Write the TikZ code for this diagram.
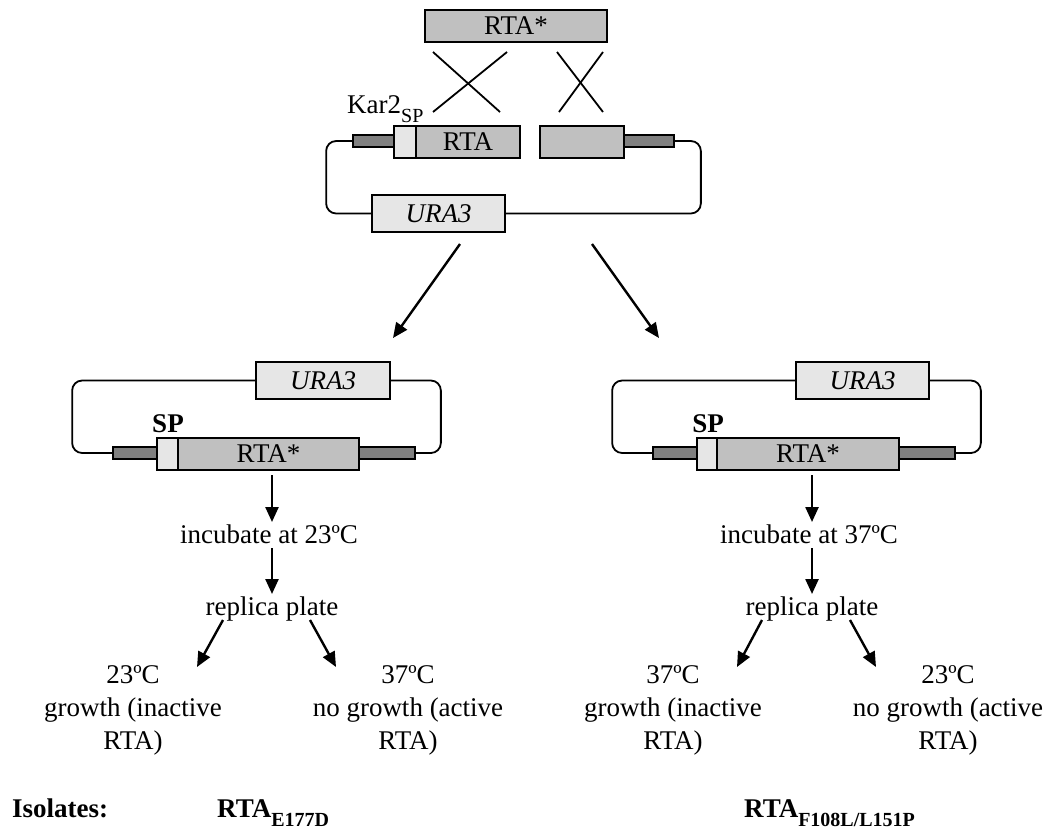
\documentclass[tikz,border=0pt]{standalone}
\usepackage{fontspec}
\setmainfont{Liberation Serif}
\usetikzlibrary{arrows.meta}
\definecolor{rtagray}{HTML}{C0C0C0}
\definecolor{lightbox}{HTML}{E6E6E6}
\definecolor{darkbar}{HTML}{808080}
\tikzset{
  gene/.style={draw=black, line width=1.7pt, inner sep=0pt, fill=rtagray},
  lgene/.style={gene, fill=lightbox},
  dbar/.style={draw=black, line width=1.7pt, inner sep=0pt, fill=darkbar},
  loopline/.style={line width=1.8pt, rounded corners=10pt},
  cross/.style={line width=1.8pt},
  arr/.style={line width=2.4pt, -{Triangle[length=15pt,width=13pt]}},
  txt/.style={inner sep=0pt, font=\fontsize{27}{33}\selectfont},
  btxt/.style={inner sep=0pt, font=\fontsize{27}{33}\selectfont\bfseries},
}
\newcommand{\mysub}[1]{\raisebox{-9pt}{\fontsize{20}{20}\selectfont #1}}
\begin{document}
\begin{tikzpicture}[x=1pt,y=-1pt]
\useasboundingbox (0,0) rectangle (1051,831);

% ---------- top construct ----------
\node[gene, minimum width=182pt, minimum height=32pt, font=\fontsize{27}{33}\selectfont] (top) at (516,26) {RTA*};
\draw[cross] (433,52) -- (500,112);
\draw[cross] (507,52) -- (433,112);
\draw[cross] (557,52) -- (603,112);
\draw[cross] (603,52) -- (559,112);

\node[txt, anchor=base west] (kar) at (347,113) {Kar2\mysub{SP}};

\node[dbar, minimum width=41pt, minimum height=12pt] (tdl) at (373.5,141) {};
\node[lgene, minimum width=22pt, minimum height=32pt] (tkar) at (405,142) {};
\node[gene, minimum width=104pt, minimum height=32pt, font=\fontsize{27}{33}\selectfont] (trta) at (468,142) {RTA};
\node[gene, minimum width=84pt, minimum height=32pt] (trtb) at (582,142) {};
\node[dbar, minimum width=50pt, minimum height=12pt] (tdr) at (649,141) {};
\node[lgene, minimum width=133pt, minimum height=37pt, font=\fontsize{27}{33}\selectfont\itshape] (tura) at (438.5,213.5) {URA3};
\draw[loopline] (tdl.west) -- ++(-26,0) |- (tura.west);
\draw[loopline] (tdr.east) -- ++(26,0) |- (tura.east);

\coordinate (a1s) at (460,244);
\coordinate (a1e) at (393,338);
\coordinate (a2s) at (592,244);
\coordinate (a2e) at (659,338);
\draw[arr] (a1s) -- (a1e);
\draw[arr] (a2s) -- (a2e);

% ---------- left plasmid ----------
\node[lgene, minimum width=134pt, minimum height=37pt, font=\fontsize{27}{33}\selectfont\itshape] (lura) at (323,380.5) {URA3};
\node[dbar, minimum width=44pt, minimum height=12pt] (ldl) at (135,453) {};
\node[lgene, minimum width=21pt, minimum height=32pt] (lsp) at (167.5,454) {};
\node[gene, minimum width=181pt, minimum height=32pt, font=\fontsize{27}{33}\selectfont] (lrta) at (268.5,454) {RTA*};
\node[dbar, minimum width=56pt, minimum height=12pt] (ldr) at (387,453) {};
\draw[loopline] (lura.west) -- ++(-183,0) |- (ldl.west);
\draw[loopline] (lura.east) -- ++(50,0) |- (ldr.east);
\node[btxt, anchor=base] (lsplab) at (168,432) {SP};

% ---------- right plasmid ----------
\node[lgene, minimum width=133pt, minimum height=37pt, font=\fontsize{27}{33}\selectfont\itshape] (rura) at (862.5,380.5) {URA3};
\node[dbar, minimum width=44pt, minimum height=12pt] (rdl) at (675,453) {};
\node[lgene, minimum width=20pt, minimum height=32pt] (rsp) at (707,454) {};
\node[gene, minimum width=182pt, minimum height=32pt, font=\fontsize{27}{33}\selectfont] (rrta) at (808,454) {RTA*};
\node[dbar, minimum width=56pt, minimum height=12pt] (rdr) at (927,453) {};
\draw[loopline] (rura.west) -- ++(-183,0) |- (rdl.west);
\draw[loopline] (rura.east) -- ++(51,0) |- (rdr.east);
\node[btxt, anchor=base] (rsplab) at (708,432) {SP};

% ---------- left branch ----------
\node[txt, anchor=base] (linc) at (269,543) {incubate at 23ºC};
\node[txt, anchor=base] (lrep) at (272,615) {replica plate};
\coordinate (l1s) at (272,475);
\coordinate (l1e) at (272,522);
\coordinate (l2s) at (272,548);
\coordinate (l2e) at (272,594);
\draw[arr] (l1s) -- (l1e);
\draw[arr] (l2s) -- (l2e);
\coordinate (l3s) at (223,620);
\coordinate (l3e) at (197,667);
\coordinate (l4s) at (310,620);
\coordinate (l4e) at (336,667);
\draw[arr] (l3s) -- (l3e);
\draw[arr] (l4s) -- (l4e);
\node[txt, anchor=north, align=center] (lres1) at (133,665) {23ºC\\growth (inactive\\RTA)};
\node[txt, anchor=north, align=center] (lres2) at (408,665) {37ºC\\no growth (active\\RTA)};

% ---------- right branch ----------
\node[txt, anchor=base] (rinc) at (809,543) {incubate at 37ºC};
\node[txt, anchor=base] (rrep) at (812,615) {replica plate};
\coordinate (r1s) at (812,475);
\coordinate (r1e) at (812,522);
\coordinate (r2s) at (812,548);
\coordinate (r2e) at (812,594);
\draw[arr] (r1s) -- (r1e);
\draw[arr] (r2s) -- (r2e);
\coordinate (r3s) at (762,620);
\coordinate (r3e) at (737,667);
\coordinate (r4s) at (850,620);
\coordinate (r4e) at (876,667);
\draw[arr] (r3s) -- (r3e);
\draw[arr] (r4s) -- (r4e);
\node[txt, anchor=north, align=center] (rres1) at (673,665) {37ºC\\growth (inactive\\RTA)};
\node[txt, anchor=north, align=center] (rres2) at (948,665) {23ºC\\no growth (active\\RTA)};

% ---------- isolates ----------
\node[btxt, anchor=base west] (iso) at (12,817) {Isolates:};
\node[btxt, anchor=base west] (iso1) at (217,817) {RTA\mysub{E177D}};
\node[btxt, anchor=base west] (iso2) at (744,817) {RTA\mysub{F108L/L151P}};
\end{tikzpicture}
\end{document}
